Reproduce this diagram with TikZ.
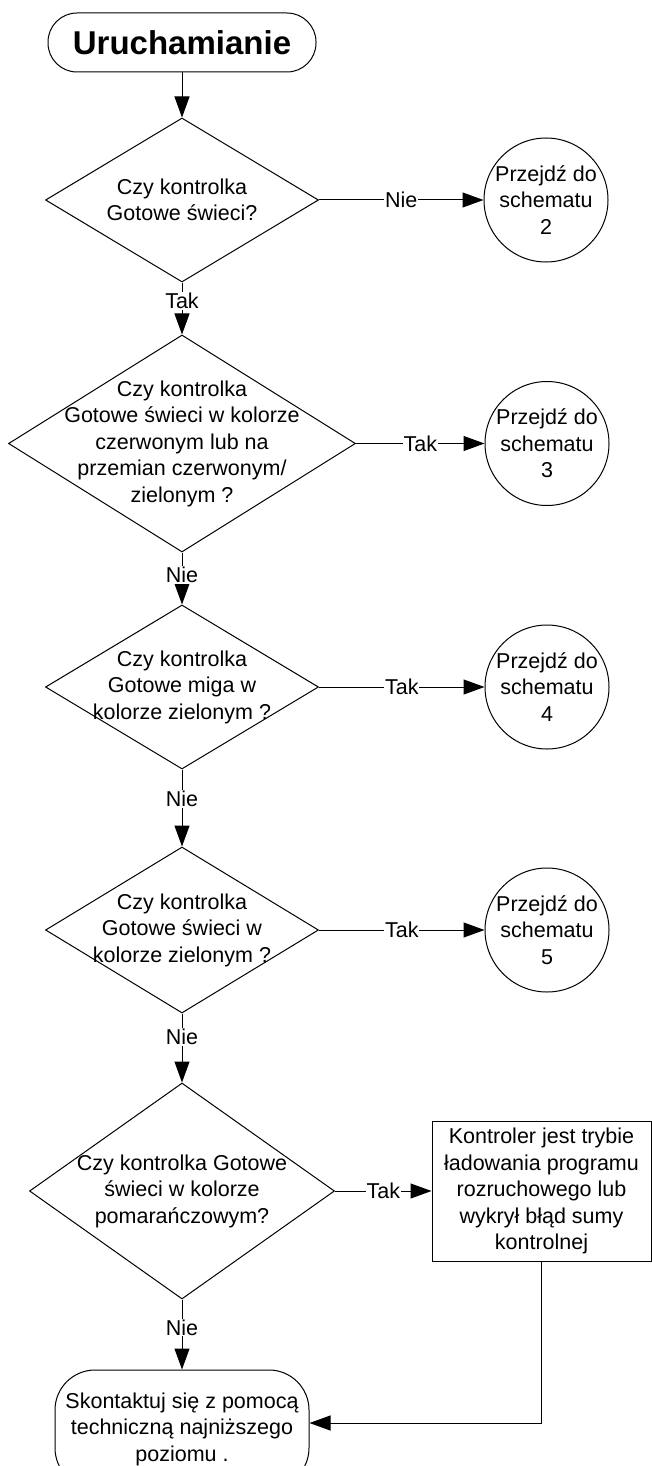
\documentclass[tikz,border=0pt]{standalone}
\usepackage{fontspec}
\setmainfont{Liberation Sans}
\usetikzlibrary{shapes.geometric}
\usetikzlibrary{arrows.meta}
\usetikzlibrary{positioning}
\tikzset{
        start stop/.style={
          draw, rectangle, align=center, inner sep=0pt
          },
        decision/.style={
          draw, diamond, align=center,
          inner xsep=-150pt, inner ysep=-150pt % let the minimum size set the diamond, the text may touch the edges
          },
        goto/.style={
          draw, circle, align=center, inner sep=0pt, minimum size=124pt
          },
        step box/.style={
          draw, rectangle, align=center, inner sep=0pt,
          minimum width=219pt, minimum height=140pt
          },
        answer/.style={fill=white, inner sep=1pt},
        flow/.style={-{Triangle[length=21pt, width=15pt]}},
}

\begin{document}
\begin{tikzpicture}[x=1pt, y=1pt, line width=1pt, font=\fontsize{21.5}{26.5}\selectfont]
      \useasboundingbox (0,0) rectangle (652,-1466);
      % START
      \node[start stop, rounded corners=29pt, minimum width=268pt, minimum height=59pt,
            font=\bfseries\fontsize{33}{40}\selectfont] (start) at (182,-42.5) {Uruchamianie};

      % DECISIONS
      \node[decision, minimum width=273pt, minimum height=164pt] (d1) at (182,-200)
        {Czy kontrolka\\Gotowe świeci?};
      \node[decision, minimum width=347pt, minimum height=217pt] (d2) at (182,-443.5)
        {Czy kontrolka\\Gotowe świeci w kolorze\\czerwonym lub na\\przemian czerwonym/\\zielonym ?};
      \node[decision, minimum width=273pt, minimum height=164pt] (d3) at (182,-687)
        {Czy kontrolka\\Gotowe miga w\\kolorze zielonym ?};
      \node[decision, minimum width=273pt, minimum height=166pt] (d4) at (182,-930)
        {Czy kontrolka\\Gotowe świeci w\\kolorze zielonym ?};
      \node[decision, minimum width=305pt, minimum height=216pt] (d5) at (182,-1191)
        {Czy kontrolka Gotowe\\świeci w kolorze\\pomarańczowym?};

      % GO TO OTHER CHARTS
      \node[goto] (g2) at (546,-200) {Przejdź do\\schematu\\2};
      \node[goto] (g3) at (547,-443.5) {Przejdź do\\schematu\\3};
      \node[goto] (g4) at (547,-687) {Przejdź do\\schematu\\4};
      \node[goto] (g5) at (547,-930) {Przejdź do\\schematu\\5};

      % BOOT LOADER BOX
      \node[step box] (boot) at (541.5,-1191)
        {Kontroler jest trybie\\ładowania programu\\rozruchowego lub\\wykrył błąd sumy\\kontrolnej};

      % END
      \node[start stop, rounded corners=40pt, minimum width=254pt, minimum height=118pt] (stop) at (182,-1429)
        {Skontaktuj się z pomocą\\techniczną najniższego\\poziomu .};

      % WIRING
      \draw[flow] (start) -- (d1);
      \draw[flow] (d1) -- node[answer, pos=0.35]{Tak} (d2);
      \draw[flow] (d2) -- node[answer, pos=0.43]{Nie} (d3);
      \draw[flow] (d3) -- node[answer, pos=0.38]{Nie} (d4);
      \draw[flow] (d4) -- node[answer, pos=0.34]{Nie} (d5);
      \draw[flow] (d5) -- node[answer, pos=0.4]{Nie} (stop);
      % yes / no to the right
      \draw[flow] (d1) -- node[answer]{Nie} (g2);
      \draw[flow] (d2) -- node[answer]{Tak} (g3);
      \draw[flow] (d3) -- node[answer]{Tak} (g4);
      \draw[flow] (d4) -- node[answer]{Tak} (g5);
      \draw[flow] (d5) -- node[answer]{Tak} (boot);
      % back to the end
      \draw[flow] (boot.south) |- ([yshift=6pt]stop.east);
\end{tikzpicture}
\end{document}
